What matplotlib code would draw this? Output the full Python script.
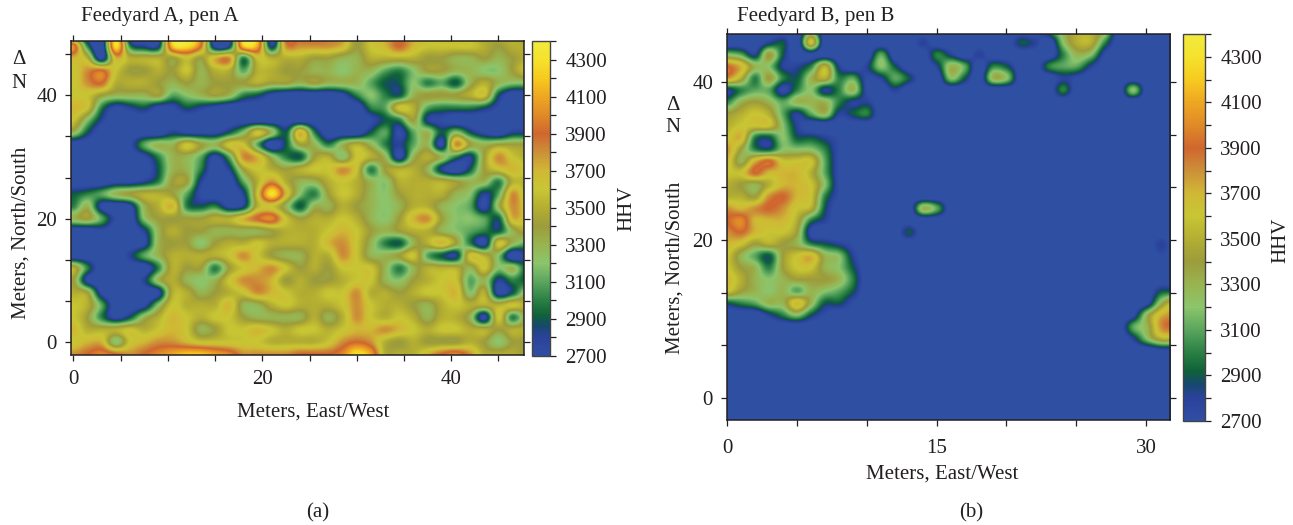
import numpy as np
import matplotlib
matplotlib.use('Agg')
import matplotlib.pyplot as plt
from matplotlib.colors import LinearSegmentedColormap

plt.rcParams['font.family'] = ['Liberation Serif', 'DejaVu Serif']
text_color = '#231f20'

# HHV / 100; rows from north to south
# pen A: x = 0, 1.5 ... 48 m, y = 50, 48 ... -2 m
x_step_a, y_top_a, y_step_a = 1.5, 50, 2
hhv_a = [
    [28,26,26,42,26,26,26,43,44,40,26,26,43,42,26,39,39,39,38,38,33,36,37,38,37,36,36,36,35,34,35,35,34],
    [40,30,26,43,30,28,28,42,43,39,27,28,42,41,28,38,38,38,38,37,34,36,37,39,37,36,36,36,36,35,34,35,35],
    [37,35,27,37,35,35,35,34,36,34,37,38,30,36,35,35,35,34,34,33,33,35,35,35,35,34,34,33,33,34,33,34,35],
    [36,38,39,36,34,34,35,34,36,33,35,35,31,35,35,34,34,33,33,32,33,33,31,30,32,34,34,33,33,32,32,34,36],
    [36,38,39,35,35,35,34,33,34,33,34,34,34,35,34,34,33,34,33,33,33,31,29,29,32,30,31,29,33,35,33,32,32],
    [36,36,34,33,33,33,34,31,32,33,34,33,30,29,27,26,26,26,26,27,30,32,30,29,33,34,34,34,35,36,29,26,26],
    [37,36,30,27,28,29,27,27,29,28,27,26,26,26,26,26,26,26,26,26,26,30,31,36,35,31,30,30,30,29,27,26,26],
    [36,32,28,26,26,26,26,26,26,26,26,26,26,26,26,26,26,26,26,26,26,27,29,30,34,28,27,26,26,26,26,26,26],
    [33,29,26,26,26,26,26,28,27,27,27,29,32,36,33,29,37,30,26,26,26,29,31,27,31,33,29,32,29,27,26,28,28],
    [26,26,26,26,27,31,33,33,36,34,33,36,36,31,26,29,34,33,30,33,35,33,30,28,31,33,27,38,34,33,34,34,34],
    [26,26,26,26,26,27,30,33,33,31,27,31,38,37,33,30,29,34,35,32,36,35,33,27,33,35,33,30,28,34,38,36,35],
    [26,26,26,26,26,26,29,33,33,30,26,28,34,36,35,34,35,36,36,38,36,30,34,35,35,33,28,26,29,34,36,37,36],
    [26,26,26,27,27,28,30,34,34,28,26,26,31,35,38,35,33,33,35,36,35,33,32,35,35,35,35,34,33,33,30,35,35],
    [29,30,31,33,34,35,35,34,31,27,26,26,28,36,43,37,32,30,34,36,35,33,32,34,35,35,35,33,32,28,31,38,35],
    [30,33,27,26,27,33,35,37,30,29,30,27,28,35,36,33,29,33,33,35,34,33,32,33,35,35,33,32,31,27,33,38,36],
    [33,34,31,27,26,32,34,34,34,34,35,35,37,39,40,36,34,35,35,36,35,33,32,34,37,38,34,32,32,31,29,37,36],
    [26,26,27,26,26,28,33,35,34,34,33,33,33,33,34,35,35,35,36,37,36,34,33,34,35,35,33,32,31,30,29,33,35],
    [26,26,26,26,26,27,33,34,34,32,34,35,35,36,35,35,35,35,37,38,36,33,30,29,33,35,37,34,30,27,36,33,31],
    [26,26,26,26,28,31,33,35,35,35,35,36,38,36,34,33,33,35,35,38,36,33,33,34,36,31,29,28,36,35,32,26,28],
    [35,30,26,26,26,26,30,35,34,34,30,34,36,37,38,36,34,35,34,36,36,36,33,30,33,35,35,35,33,36,32,33,29],
    [34,27,26,26,26,28,33,35,33,32,33,36,38,38,37,34,35,34,34,35,36,36,33,32,34,35,36,36,31,33,28,30,29],
    [35,34,27,26,26,26,27,35,35,33,34,35,36,38,37,36,35,35,36,36,38,35,35,34,35,36,36,37,32,35,27,29,33],
    [36,35,31,26,26,27,32,36,35,35,35,37,33,33,35,36,35,35,35,36,38,36,35,35,34,33,35,36,35,35,35,36,35],
    [36,34,30,27,29,33,35,37,36,35,36,36,34,33,33,33,33,35,33,35,38,36,35,36,35,33,35,35,33,27,36,30,34],
    [37,35,35,35,36,35,36,37,36,33,34,36,36,37,36,35,36,36,35,36,37,37,38,37,36,35,36,36,35,35,34,35,35],
    [36,37,37,32,36,37,38,38,37,36,36,36,36,36,35,35,35,35,36,38,39,38,35,34,35,34,34,34,35,34,32,34,34],
    [38,39,40,39,38,39,40,41,42,42,41,40,38,38,38,38,39,39,39,40,43,41,35,35,35,37,39,40,38,35,35,35,34],
]

# pen B: x = 0, 1 ... 32 m, y = 46.5, 45 ... -3 m
x_step_b, y_top_b, y_step_b = 1, 46.5, 1.5
hhv_b = [
    [26,26,26,26,26,26,31,26,26,26,26,26,26,26,26,26,26,26,26,26,26,26,26,30,33,35,35,33,26,26,26,26,26],
    [26,26,26,28,29,26,36,26,26,26,26,26,26,26,28,26,26,26,26,26,26,29,28,26,32,35,35,30,26,26,26,26,26],
    [32,31,28,34,29,26,27,26,26,26,26,31,26,26,26,30,28,26,28,26,26,26,26,26,30,33,32,27,26,26,26,26,26],
    [39,37,33,32,28,28,30,35,28,26,28,32,29,26,26,28,33,31,26,30,29,26,26,30,31,31,28,26,26,26,26,26,26],
    [38,35,30,34,30,29,33,35,30,31,27,28,31,29,26,26,32,29,26,33,32,26,26,26,28,27,26,26,26,26,26,26,26],
    [28,30,31,31,27,30,32,28,30,33,27,26,28,26,26,26,26,26,26,26,26,26,26,26,30,26,26,26,26,32,26,26,26],
    [30,33,34,33,31,33,33,33,30,28,28,26,26,26,26,26,26,26,26,26,26,26,26,26,26,26,26,26,26,26,26,26,26],
    [34,35,36,35,31,28,31,33,28,29,30,26,26,26,26,26,26,26,26,26,26,26,26,26,26,26,26,26,26,26,26,26,26],
    [35,36,36,36,32,28,26,26,26,26,26,26,26,26,26,26,26,26,26,26,26,26,26,26,26,26,26,26,26,26,26,26,26],
    [36,37,30,29,32,29,29,28,27,26,26,26,26,26,26,26,26,26,26,26,26,26,26,26,26,26,26,26,26,26,26,26,26],
    [38,34,30,29,32,32,32,30,27,26,26,26,26,26,26,26,26,26,26,26,26,26,26,26,26,26,26,26,26,26,26,26,26],
    [37,33,37,39,36,36,36,31,27,26,26,26,26,26,26,26,26,26,26,26,26,26,26,26,26,26,26,26,26,26,26,26,26],
    [36,36,39,37,37,37,35,31,27,26,26,26,26,26,26,26,26,26,26,26,26,26,26,26,26,26,26,26,26,26,26,26,26],
    [35,34,33,35,37,37,36,32,27,26,26,26,26,26,26,26,26,26,26,26,26,26,26,26,26,26,26,26,26,26,26,26,26],
    [35,35,34,38,39,37,36,30,27,26,26,26,26,26,26,26,26,26,26,26,26,26,26,26,26,26,26,26,26,26,26,26,26],
    [38,37,38,39,38,36,35,29,26,26,26,26,26,26,33,31,26,26,26,26,26,26,26,26,26,26,26,26,26,26,26,26,26],
    [39,40,37,37,37,35,30,28,26,26,26,26,26,26,26,26,26,26,26,26,26,26,26,26,26,26,26,26,26,26,26,26,26],
    [38,39,37,36,36,34,27,26,26,27,26,26,26,29,26,26,26,26,26,26,26,26,26,26,26,26,26,26,26,26,26,26,26],
    [37,36,34,35,34,33,30,29,28,27,26,26,26,26,26,26,26,26,26,26,26,26,26,26,26,26,26,26,26,26,26,28,26],
    [36,33,31,29,34,36,37,33,32,28,26,26,26,26,26,26,26,26,26,26,26,26,26,26,26,26,26,26,26,26,26,27,26],
    [36,34,33,30,34,36,36,33,32,29,26,26,26,26,26,26,26,26,26,26,26,26,26,26,26,26,26,26,26,26,26,26,26],
    [37,35,33,32,33,34,34,34,33,30,26,26,26,26,26,26,26,26,26,26,26,26,26,26,26,26,26,26,26,26,26,26,26],
    [36,34,33,32,33,31,33,32,31,29,26,26,26,26,26,26,26,26,26,26,26,26,26,26,26,26,26,26,26,26,26,29,29],
    [29,30,31,33,33,37,33,29,29,27,26,26,26,26,26,26,26,26,26,26,26,26,26,26,26,26,26,26,26,26,27,33,36],
    [26,26,26,28,30,32,29,27,26,27,26,26,26,26,26,26,26,26,26,26,26,26,26,26,26,26,26,26,26,27,33,37,38],
    [26,26,26,26,26,26,26,26,26,27,26,26,26,26,26,26,26,26,26,26,26,26,26,26,26,26,26,26,26,31,33,38,39],
    [26,26,26,26,26,26,26,26,26,26,26,26,26,26,26,26,26,26,26,26,26,26,26,26,26,26,26,26,26,28,32,35,35],
    [26,26,26,26,26,26,26,26,26,26,26,26,26,26,26,26,26,26,26,26,26,26,26,26,26,26,26,26,26,26,26,27,27],
    [26,26,26,26,26,26,26,26,26,26,26,26,26,26,26,26,26,26,26,26,26,26,26,26,26,26,26,26,26,26,26,26,26],
    [26,26,26,26,26,26,26,26,26,26,26,26,26,26,26,26,26,26,26,26,26,26,26,26,26,26,26,26,26,26,26,26,26],
    [26,26,26,26,26,26,26,26,26,26,26,26,26,26,26,26,26,26,26,26,26,26,26,26,26,26,26,26,26,26,26,26,26],
    [26,26,26,26,26,26,26,26,26,26,26,26,26,26,26,26,26,26,26,26,26,26,26,26,26,26,26,26,26,26,26,26,26],
    [26,26,26,26,26,26,26,26,26,26,26,26,26,26,26,26,26,26,26,26,26,26,26,26,26,26,26,26,26,26,26,26,26],
    [26,26,26,26,26,26,26,26,26,26,26,26,26,26,26,26,26,26,26,26,26,26,26,26,26,26,26,26,26,26,26,26,26],
]

# colour bar stops
hhv_stops = [2700, 2800, 2860, 2920, 3000, 3100, 3200, 3300, 3400, 3500, 3600, 3700, 3800, 3900, 4000, 4100, 4200, 4300, 4400]
hhv_colors = ['#2f4fa3', '#2b429c', '#17486f', '#0f6238', '#2a8044', '#5aa55e', '#8cc56c', '#98b450',
              '#9c9c3c', '#b4ae32', '#c8c634', '#d0b834', '#cc9038', '#d0662f', '#e08a28', '#eea622',
              '#f7ca1f', '#f5e22c', '#f2ea3e']
cmap = LinearSegmentedColormap.from_list(
    'hhv', [((v - 2700) / 1700, c) for v, c in zip(hhv_stops, hhv_colors)], N=512)

W, H = 1293, 525
fig = plt.figure(figsize=(W / 100, H / 100), dpi=100)


def box(x0, y0, x1, y1):
    return [x0 / W, 1 - y1 / H, (x1 - x0) / W, (y1 - y0) / H]


def panel(grid, dx, ytop, dy, ax_box, bar_box, xlim, ylim, xmajor, xminor, ymajor, yminor, xpad):
    grid = np.array(grid) * 100.0
    ax = fig.add_axes(box(*ax_box))
    nrow, ncol = grid.shape
    ext = (-dx / 2, (ncol - 0.5) * dx, ytop - (nrow - 0.5) * dy, ytop + dy / 2)
    im = ax.imshow(grid, cmap=cmap, vmin=2700, vmax=4400, extent=ext, aspect='auto', interpolation='catrom')
    ax.set_xlim(*xlim)
    ax.set_ylim(*ylim)
    ax.set_xticks(xmajor)
    ax.set_xticks(xminor, minor=True)
    ax.set_yticks(ymajor)
    ax.set_yticks(yminor, minor=True)
    ax.tick_params(which='both', top=True, right=True, direction='out', length=4, width=0.9, color=text_color)
    ax.tick_params(axis='x', labelsize=15, labelcolor=text_color, pad=xpad)
    ax.tick_params(axis='y', labelsize=15, labelcolor=text_color, pad=6)
    for s in ax.spines.values():
        s.set_linewidth(1.1)
        s.set_color(text_color)
    cax = fig.add_axes(box(*bar_box))
    cb = fig.colorbar(im, cax=cax)
    cb.set_ticks(np.arange(2700, 4301, 200))
    cb.set_ticks(np.arange(2800, 4401, 200), minor=True)
    cb.ax.tick_params(which='major', length=4, width=0.9, color=text_color, labelsize=15, labelcolor=text_color, pad=7)
    cb.ax.tick_params(which='minor', length=4, width=0.9, color=text_color)
    cb.outline.set_linewidth(1.0)
    cb.outline.set_edgecolor('#444444')
    return ax


panel(hhv_a, x_step_a, y_top_a, y_step_a, (71, 41, 524, 355), (532, 41, 550, 356),
      (-0.25, 47.7), (-2.1, 48.8),
      [0, 20, 40], [5, 10, 15, 25, 30, 35, 45],
      [0, 20, 40], [20 / 3, 40 / 3, 80 / 3, 100 / 3, 140 / 3], 7)
panel(hhv_b, x_step_b, y_top_b, y_step_b, (727, 34, 1170, 420), (1183, 34, 1205, 421),
      (0, 31.7), (-2.8, 46.1),
      [0, 15, 30], [5, 10, 20, 25],
      [0, 20, 40], [20 / 3, 40 / 3, 80 / 3, 100 / 3], 10)


def label(x, y, s, rot=0, ha='center', size=15):
    fig.text(x / W, 1 - y / H, s, rotation=rot, ha=ha, va='center', fontsize=size, color=text_color)


# panel A text
label(81, 17, 'Feedyard A, pen A', ha='left')
label(313, 412, 'Meters, East/West')
label(21, 233, 'Meters, North/South', rot=90)
label(19, 60, 'Δ')
label(19, 83, 'N')
label(627, 208, 'HHV', rot=90)
label(318, 513, '(a)')

# panel B text
label(737, 17, 'Feedyard B, pen B', ha='left')
label(942, 474, 'Meters, East/West')
label(675, 268, 'Meters, North/South', rot=90)
label(673, 105, 'Δ')
label(673, 128, 'N')
label(1281, 240, 'HHV', rot=90)
label(971, 513, '(b)')

fig.savefig('out.png', dpi=100)
